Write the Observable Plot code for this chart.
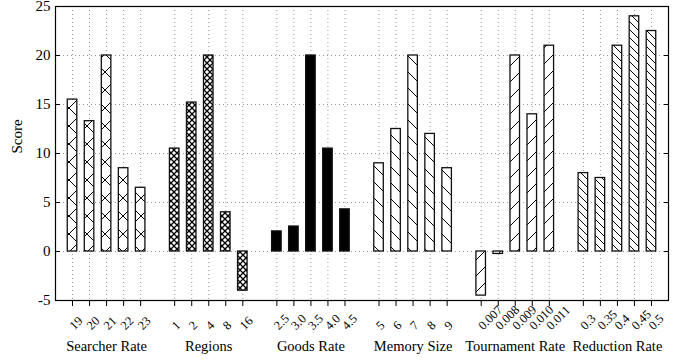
<!DOCTYPE html>
<html><head><meta charset="utf-8">
<script src="https://cdn.jsdelivr.net/npm/d3@7"></script>
<script src="https://cdn.jsdelivr.net/npm/@observablehq/plot@0.6"></script>
<style>body{margin:0;background:#fff} svg{display:block} #defs{position:absolute;width:0;height:0}</style>
</head><body>
<svg id="defs" width="0" height="0">
  <defs>
    <pattern id="pat0" patternUnits="userSpaceOnUse" width="18" height="18" x="-3">
      <rect width="18" height="18" fill="white"/>
      <path d="M0,0L18,18M18,0L0,18" stroke="black" stroke-width="1"/>
    </pattern>
    <pattern id="pat1" patternUnits="userSpaceOnUse" width="6" height="6">
      <rect width="6" height="6" fill="white"/>
      <path d="M0,0L6,6M6,0L0,6" stroke="black" stroke-width="1.3"/>
    </pattern>
    <pattern id="pat2" patternUnits="userSpaceOnUse" width="6" height="6">
      <rect width="6" height="6" fill="black"/>
    </pattern>
    <pattern id="pat3" patternUnits="userSpaceOnUse" width="16" height="16">
      <rect width="16" height="16" fill="white"/>
      <path d="M0,0L16,16M-2,14L2,18M14,-2L18,2" stroke="black" stroke-width="1"/>
    </pattern>
    <pattern id="pat4" patternUnits="userSpaceOnUse" width="16" height="16">
      <rect width="16" height="16" fill="white"/>
      <path d="M0,16L16,0M-2,2L2,-2M14,18L18,14" stroke="black" stroke-width="1"/>
    </pattern>
    <pattern id="pat5" patternUnits="userSpaceOnUse" width="8" height="8">
      <rect width="8" height="8" fill="white"/>
      <path d="M0,0L8,8M-2,6L2,10M6,-2L10,2" stroke="black" stroke-width="1"/>
    </pattern>
  </defs>
</svg>
<div id="chart"></div>
<script>
const groupNames = ["Searcher Rate", "Regions", "Goods Rate", "Memory Size", "Tournament Rate", "Reduction Rate"];

const searcherLabels = ["19", "20", "21", "22", "23"];
const searcherValues = [15.5, 13.3, 20.0, 8.5, 6.5];

const regionsLabels = ["1", "2", "4", "8", "16"];
const regionsValues = [10.5, 15.2, 20.0, 4.0, -4.0];

const goodsLabels = ["2.5", "3.0", "3.5", "4.0", "4.5"];
const goodsValues = [2.05, 2.55, 20.0, 10.5, 4.3];

const memoryLabels = ["5", "6", "7", "8", "9"];
const memoryValues = [9.0, 12.5, 20.0, 12.0, 8.5];

const tournamentLabels = ["0.007", "0.008", "0.009", "0.010", "0.011"];
const tournamentValues = [-4.5, -0.25, 20.0, 14.0, 21.0];

const reductionLabels = ["0.3", "0.35", "0.4", "0.45", "0.5"];
const reductionValues = [8.0, 7.5, 21.0, 24.0, 22.5];

const yTicks = [-5, 0, 5, 10, 15, 20, 25];

const labelSets = [searcherLabels, regionsLabels, goodsLabels, memoryLabels, tournamentLabels, reductionLabels];
const valueSets = [searcherValues, regionsValues, goodsValues, memoryValues, tournamentValues, reductionValues];

const perGroup = 6; // 5 bars + 1 empty slot
const halfBar = 0.28;

const groups = groupNames.map((name, g) => ({
  name,
  mid: g * perGroup + 2,
  bars: valueSets[g].map((v, i) => ({
    slot: g * perGroup + i,
    x1: g * perGroup + i - halfBar,
    x2: g * perGroup + i + halfBar,
    value: v,
    label: labelSets[g][i]
  }))
}));
const allBars = groups.flatMap(g => g.bars);
const slots = allBars.map(d => d.slot);

const font = "'Liberation Serif', 'Times New Roman', serif";

const marks = [
  Plot.gridX(slots, {stroke: "#999", strokeOpacity: 1, strokeDasharray: "1,3", strokeWidth: 1}),
  Plot.gridY([0, 5, 10, 15, 20], {stroke: "#999", strokeOpacity: 1, strokeDasharray: "1,3", strokeWidth: 1}),
  ...groups.map((g) => Plot.rectY(g.bars, {x1: "x1", x2: "x2", y1: 0, y2: "value", fill: "white", stroke: "#111", strokeWidth: 1.3})),
  Plot.frame({stroke: "black", strokeWidth: 1.2}),
  Plot.axisY(yTicks, {anchor: "left", tickSize: -5, tickPadding: 10, tickFormat: d => String(d), fontSize: 15, fontFamily: font, label: null, stroke: "black"}),
  Plot.axisY(yTicks, {anchor: "right", tickSize: -5, tickFormat: () => "", label: null, stroke: "black"}),
  Plot.axisX(slots, {anchor: "bottom", tickSize: 6, tickFormat: () => "", label: null, stroke: "black"}),
  Plot.text(allBars, {x: "slot", text: "label", frameAnchor: "bottom", dy: 30, dx: 2, rotate: -45, textAnchor: "start", lineAnchor: "bottom", fontSize: 12.5, fontFamily: font, fill: "black"}),
  Plot.text(groups, {x: "mid", text: "name", frameAnchor: "bottom", dy: 50, lineAnchor: "bottom", fontSize: 14.5, fontFamily: font, fill: "black"}),
  Plot.text(["Score"], {frameAnchor: "left", dx: -38, rotate: -90, fontSize: 15, fontFamily: font, fill: "black"})
];

const chart = Plot.plot({
  width: 694,
  height: 362,
  marginTop: 6,
  marginBottom: 62,
  marginLeft: 55,
  marginRight: 26,
  style: {fontFamily: font, background: "white", color: "black"},
  x: {type: "linear", domain: [-1, 35], axis: null},
  y: {domain: [-5, 25], axis: null},
  marks
});

document.getElementById("chart").appendChild(chart);

// apply hatch patterns to each group's bars (in mark order)
const rectGroups = d3.select(chart).selectAll('g[aria-label="rect"]').nodes();
rectGroups.forEach((node, i) => {
  d3.select(node).selectAll("rect").attr("fill", `url(#pat${i})`);
  d3.select(node).attr("fill", `url(#pat${i})`);
});
</script>
</body></html>
